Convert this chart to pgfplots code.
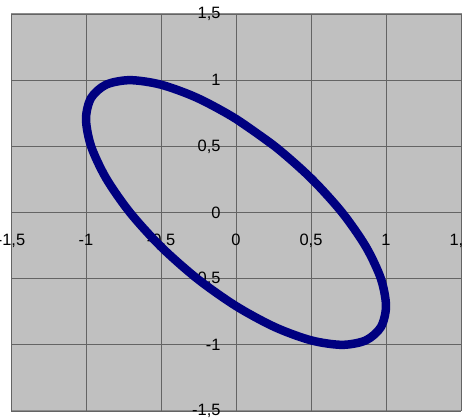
\documentclass[border=0pt]{standalone}
\usepackage{pgfplots}
\pgfplotsset{compat=1.18}
\usepackage{fontspec}
\setmainfont{Liberation Sans}
\definecolor{plotbg}{RGB}{192,192,192}
\definecolor{gridc}{RGB}{100,100,100}
\definecolor{framec}{RGB}{140,140,140}
\definecolor{navyc}{RGB}{0,0,128}
\begin{document}
\begin{tikzpicture}
\begin{axis}[
  at={(11bp,8bp)}, anchor=south west,
  width=450bp, height=397bp, scale only axis,
  xmin=-1.5, xmax=1.5, ymin=-1.5, ymax=1.5,
  axis lines=middle, axis line style={gridc, -, line width=0.8bp},
  xtick={-1.5,-1,-0.5,0,0.5,1,1.5},
  ytick={-1.5,-1,-0.5,0,0.5,1,1.5},
  xticklabels={{-1,5},{-1},{-0,5},{0},{0,5},{1},{1,5}},
  yticklabels={{-1,5},{-1},{-0,5},{0},{0,5},{1},{1,5}},
  grid=major, grid style={gridc, line width=0.8bp},
  axis background/.style={fill=plotbg, draw=framec, line width=1bp},
  tick align=outside, major tick length=6bp, tick style={gridc, line width=0.8bp},
  ticklabel style={font=\fontsize{16.5}{18}\selectfont},
  xticklabel style={yshift=-12bp},
  yticklabel style={xshift=-6bp},
  hide obscured x ticks=false, hide obscured y ticks=false,
  clip=false,
]
\addplot[navyc, line width=8.5bp, smooth, line join=round] coordinates {
(0,0.7071) (0.2588,0.5)
(0.5,0.2588) (0.7071,0) (0.8660,-0.2588) (0.9659,-0.5)
(1,-0.7071) (0.9659,-0.8660) (0.8660,-0.9659) (0.7071,-1) (0.5,-0.9659)
(0.2588,-0.8660) (0,-0.7071) (-0.2588,-0.5) (-0.5,-0.2588) (-0.7071,0)
(-0.8660,0.2588) (-0.9659,0.5) (-1,0.7071) (-0.9659,0.8660) (-0.8660,0.9659)
(-0.7071,1) (-0.5,0.9659) (-0.2588,0.8660) (0,0.7071) (0.2588,0.5)
};
\end{axis}
\pgfresetboundingbox
\useasboundingbox (0,0) rectangle (462bp,419bp);
\end{tikzpicture}
\end{document}
